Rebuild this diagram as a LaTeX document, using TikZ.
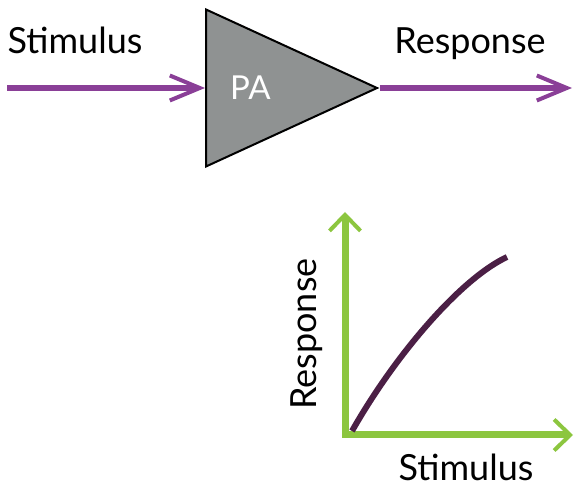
\documentclass[tikz,border=0pt]{standalone}
\usepackage{fontspec}
\setmainfont{Lato}
\usetikzlibrary{arrows.meta,positioning,shapes.geometric}
\definecolor{sigpurple}{HTML}{8A3F97}
\definecolor{ampgray}{HTML}{8F9292}
\definecolor{axisgreen}{HTML}{8CC63F}
\definecolor{curveplum}{HTML}{4B1F45}

\begin{document}
\begin{tikzpicture}[x=1pt,y=-1pt,font=\fontsize{36}{40}\selectfont]
\useasboundingbox (0,0) rectangle (574,489);
\tikzset{
  sig/.style={draw=sigpurple,line width=6pt,-{Straight Barb[length=30pt,width=25pt,line width=4pt]}},
  axis/.style={draw=axisgreen,line width=7pt,line join=miter,
    {Straight Barb[length=16pt,width=31pt,line width=4pt]}-{Straight Barb[length=16pt,width=31pt,line width=4pt]}},
  lbl/.style={inner sep=0pt,text=black}
}
\node[isosceles triangle,isosceles triangle stretches,shape border rotate=0,
  minimum width=157pt,minimum height=171pt,inner sep=0pt,
  draw,line width=2pt,fill=ampgray,anchor=west] (pa) at (205,88){};
\node[lbl,text=white,anchor=west,font=\fontsize{33}{36}\selectfont] (pal) at (230,88){PA};
\coordinate (in) at (7,88);
\coordinate (out) at (572,88);
\draw[sig] (in) -- (pa.west);
\draw[sig] (pa.apex) -- (out);
\node[lbl,anchor=base] (stim) at (75,54){Stimulus};
\node[lbl,anchor=base] (resp) at (470,54){Response};
% response curve
\coordinate (o) at (345,435);
\coordinate (ytop) at (345,212);
\coordinate (xend) at (573,435);
\draw[axis] (ytop) -- (o) -- (xend);
\draw[curveplum,line width=6pt] (352,431) .. controls (397,352) and (462,278) .. (507,257);
\node[lbl,rotate=90,anchor=base] (yl) at (316,334){Response};
\node[lbl,anchor=base] (xl) at (466,481){Stimulus};
\end{tikzpicture}
\end{document}
